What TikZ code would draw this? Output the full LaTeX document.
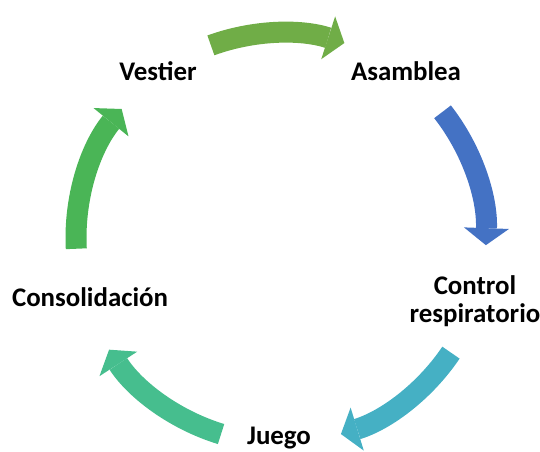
\documentclass[tikz,border=0pt]{standalone}
\usepackage{fontspec}
\setmainfont{Carlito}
\usepackage{xcolor}
\usetikzlibrary{arrows.meta}

\definecolor{verdeA}{HTML}{70AD47}
\definecolor{azulA}{HTML}{4472C4}
\definecolor{turquesaA}{HTML}{45B0C4}
\definecolor{marA}{HTML}{46BE8E}
\definecolor{verdeB}{HTML}{4AB556}

\tikzset{
	etapa/.style={font=\fontsize{15.3}{15.8}\selectfont\bfseries, align=center, inner sep=0pt},
	flecha/.style={line width=4.2mm, -{Triangle[length=3.4mm,width=9mm,line width=0pt]}}
}

\begin{document}
\begin{tikzpicture}
	\useasboundingbox (0,0) rectangle (10.8,-9.02);
	\coordinate (c) at (5.62,-4.76);
	\node[etapa] (vestier) at (3.16,-1.43) {Vestier};
	\node[etapa] (asamblea) at (8.12,-1.43) {Asamblea};
	\node[etapa] (control) at (9.5,-6.02) {Control\\respiratorio};
	\node[etapa] (juego) at (5.58,-8.76) {Juego};
	\node[etapa] (consol) at (1.8,-5.95) {Consolidación};
	\draw[flecha, color=verdeA] ([shift={(c)}]110:4.1) arc[start angle=110, end angle=72, radius=4.1];
	\draw[flecha, color=azulA] ([shift={(c)}]38:4.1) arc[start angle=38, end angle=-2, radius=4.1];
	\draw[flecha, color=turquesaA] ([shift={(c)}]-34:4.1) arc[start angle=-34, end angle=-73, radius=4.1];
	\draw[flecha, color=marA] ([shift={(c)}]-107:4.1) arc[start angle=-107, end angle=-147, radius=4.1];
	\draw[flecha, color=verdeB] ([shift={(c)}]183:4.1) arc[start angle=183, end angle=141, radius=4.1];
\end{tikzpicture}
\end{document}
